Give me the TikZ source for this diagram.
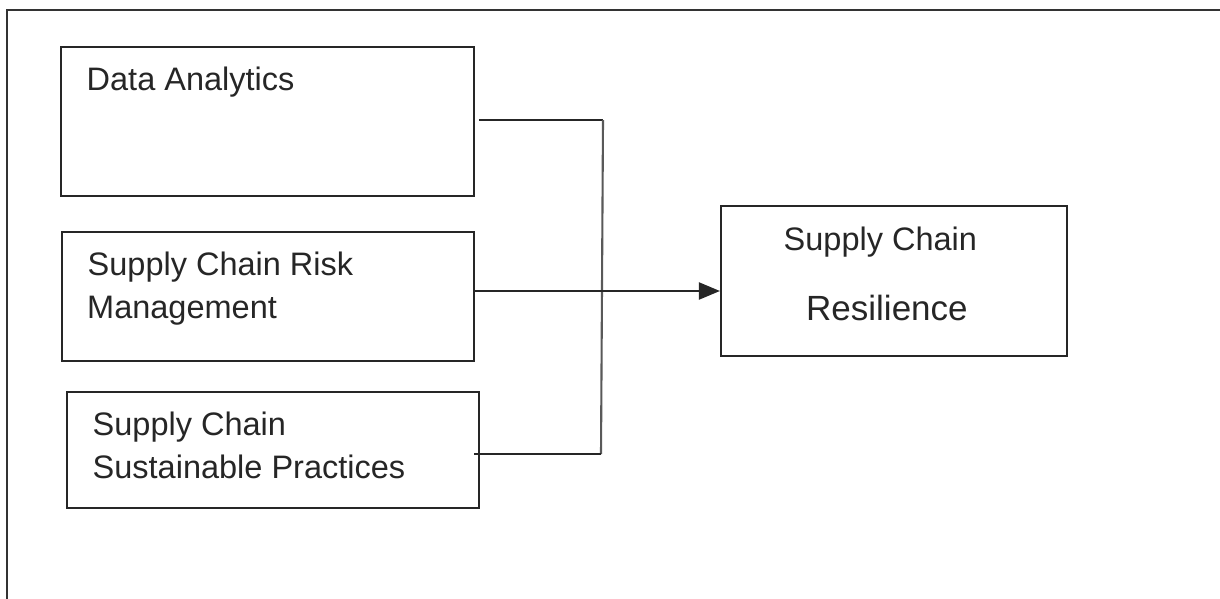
\documentclass[tikz,border=0pt]{standalone}
\usepackage{fontspec}
\setmainfont{Liberation Sans}
\usetikzlibrary{arrows.meta}
\begin{document}
\begin{tikzpicture}[x=1pt,y=-1pt,
  box/.style={draw=black!85,line width=2.1pt,rectangle,inner sep=0pt},
  lbl/.style={anchor=base west,inner sep=0pt,text=black!85,font=\fontsize{32.5}{43}\selectfont},
  conn/.style={draw=black!85,line width=2.1pt}]
\useasboundingbox (0,0) rectangle (1220,599);
\clip (0,0) rectangle (1220,599);
% outer frame (right and bottom edges lie outside the picture)
\draw[line width=2.8pt,black!80] (7,640) -- (7,10) -- (1260,10) -- (1260,640) -- cycle;
% boxes
\node[box,minimum width=413pt,minimum height=149pt] (b1) at (267.5,121.5) {};
\node[box,minimum width=412pt,minimum height=129pt] (b2) at (268,296.5) {};
\node[box,minimum width=412pt,minimum height=116pt] (b3) at (273,450) {};
\node[box,minimum width=346pt,minimum height=150pt] (b4) at (894,281) {};
% texts
\node[lbl] (t1) at (86.5,91) {Data Analytics};
\node[lbl] (t2a) at (87.5,275) {Supply Chain Risk};
\node[lbl] (t2b) at (87,318) {Management};
\node[lbl] (t3a) at (92.5,435) {Supply Chain};
\node[lbl] (t3b) at (92.5,478) {Sustainable Practices};
\node[lbl] (t4a) at (783.5,250) {Supply Chain};
\node[lbl,font=\fontsize{35}{43}\selectfont] (t4b) at (806,320) {Resilience};
% connectors
\coordinate (j1) at (603,120);
\coordinate (j3) at (601,454);
\coordinate (ar) at (0,291);
\draw[conn] ([xshift=4pt]b1.east |- j1) -- (j1);
\draw[conn,black!65] (j1) -- (j3);
\draw[conn] (j3) -- ([xshift=-6pt]b3.east |- j3);
\draw[conn,-{Triangle[length=21pt,width=17pt]}] (b2.east |- ar) -- (b4.west |- ar);
\end{tikzpicture}
\end{document}
